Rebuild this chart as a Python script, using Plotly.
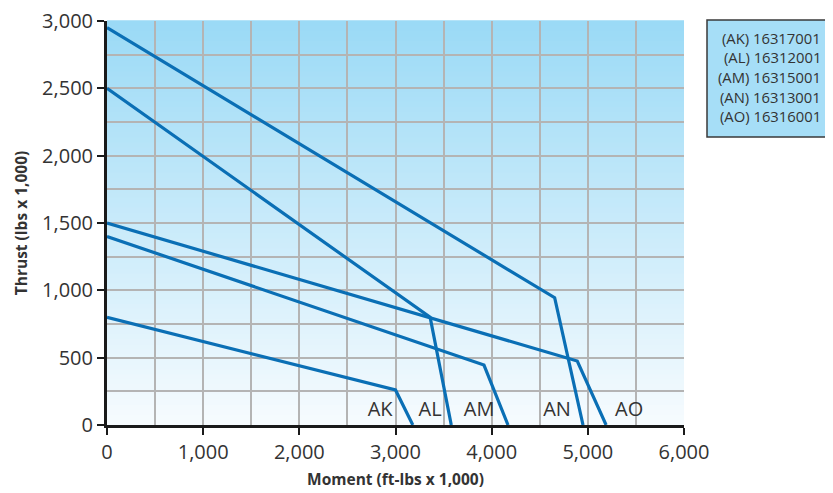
import plotly.graph_objects as go

# Data (Moment ft-lbs x 1,000 ; Thrust lbs x 1,000)
series_names = ["AK", "AL", "AM", "AN", "AO"]
ak_x = [0, 3000, 3180]
ak_y = [800, 260, 0]
al_x = [0, 3360, 3580]
al_y = [2500, 800, 0]
am_x = [0, 3920, 4170]
am_y = [1400, 445, 0]
an_x = [0, 4655, 4950]
an_y = [2950, 945, 0]
ao_x = [0, 4890, 5190]
ao_y = [1500, 475, 0]

label_x = [2840, 3360, 3870, 4680, 5430]
label_y = [105, 105, 105, 105, 105]

legend_lines = ["(AK) 16317001", "(AL) 16312001", "(AM) 16315001",
                "(AN) 16313001", "(AO) 16316001"]

x_ticks = [0, 1000, 2000, 3000, 4000, 5000, 6000]
y_ticks = [0, 500, 1000, 1500, 2000, 2500, 3000]

LINE = "#0a6fb5"
TXT = "#333333"
FONT = "Open Sans"

# plot-area geometry in pixels (for the paper-referenced legend box)
PL, PR, PT, PB = 107, 684, 21, 425
PW, PH = PR - PL, PB - PT


def px_x(p):
    return (p - PL) / PW


def px_y(p):
    return (PB - p) / PH


fig = go.Figure()
for xs, ys, nm in zip([ak_x, al_x, am_x, an_x, ao_x],
                      [ak_y, al_y, am_y, an_y, ao_y], series_names):
    fig.add_trace(go.Scatter(x=xs, y=ys, mode="lines", name=nm,
                             line=dict(color=LINE, width=3.2),
                             showlegend=False, hoverinfo="skip"))

fig.add_trace(go.Scatter(x=label_x, y=label_y, mode="text", text=series_names,
                         textfont=dict(family=FONT, size=20, color=TXT),
                         showlegend=False, hoverinfo="skip"))

# vertical gradient background
top = (0x9b, 0xda, 0xf6)
bot = (0xf6, 0xfb, 0xfe)
n = 80
shapes = []
for i in range(n):
    t = i / (n - 1)
    c = tuple(round(bot[k] + (top[k] - bot[k]) * t) for k in range(3))
    shapes.append(dict(type="rect", xref="x domain", yref="y domain",
                       x0=0, x1=1, y0=i / n, y1=(i + 1) / n + 0.002,
                       fillcolor="rgb(%d,%d,%d)" % c, line=dict(width=0),
                       layer="below"))

# legend box (runs off the right edge, as in the original)
shapes.append(dict(type="rect", xref="paper", yref="paper",
                   x0=px_x(707), x1=px_x(850), y0=px_y(137), y1=px_y(20),
                   fillcolor="#a6def7", line=dict(color="#3a3a3a", width=1.5),
                   layer="above"))

fig.update_layout(
    width=833, height=493,
    margin=dict(l=99, r=157, t=13, b=76),
    paper_bgcolor="white", plot_bgcolor="white",
    shapes=shapes,
    font=dict(family=FONT, color=TXT),
    xaxis=dict(range=[0, 6000], tickvals=x_ticks, tickformat=",d",
               showgrid=True, gridcolor="#b4b4b4", gridwidth=1.5,
               minor=dict(dtick=500, tick0=0, showgrid=True, gridcolor="#b4b4b4",
                          gridwidth=1.5, ticks=""),
               showline=True, linecolor="#1a1a1a", linewidth=3,
               ticks="outside", ticklen=7, tickwidth=2, tickcolor="#1a1a1a",
               tickfont=dict(size=20, color=TXT, family=FONT),
               ticklabeloverflow="allow",
               title=dict(text="<b>Moment (ft-lbs x 1,000)</b>",
                          font=dict(size=15.5, color=TXT, family=FONT), standoff=11),
               zeroline=False, mirror=False, fixedrange=True, automargin=False),
    yaxis=dict(range=[0, 3000], tickvals=y_ticks, tickformat=",d",
               showgrid=True, gridcolor="#b4b4b4", gridwidth=1.5,
               minor=dict(dtick=250, tick0=0, showgrid=True, gridcolor="#b4b4b4",
                          gridwidth=1.5, ticks=""),
               showline=True, linecolor="#1a1a1a", linewidth=3,
               ticks="outside", ticklen=7, tickwidth=2, tickcolor="#1a1a1a",
               tickfont=dict(size=20, color=TXT, family=FONT),
               ticklabeloverflow="allow",
               title=dict(text="<b>Thrust (lbs x 1,000)</b>",
                          font=dict(size=15.5, color=TXT, family=FONT), standoff=11),
               zeroline=False, fixedrange=True, automargin=False),
)

row_y = [38, 57.5, 77, 96.5, 116]
for txt, yy in zip(legend_lines, row_y):
    fig.add_annotation(xref="paper", yref="paper", x=px_x(822), y=px_y(yy),
                       xanchor="right", yanchor="middle", showarrow=False,
                       text=txt, font=dict(family=FONT, size=14.8, color=TXT),
                       borderpad=0)

fig.write_html("out.html")
